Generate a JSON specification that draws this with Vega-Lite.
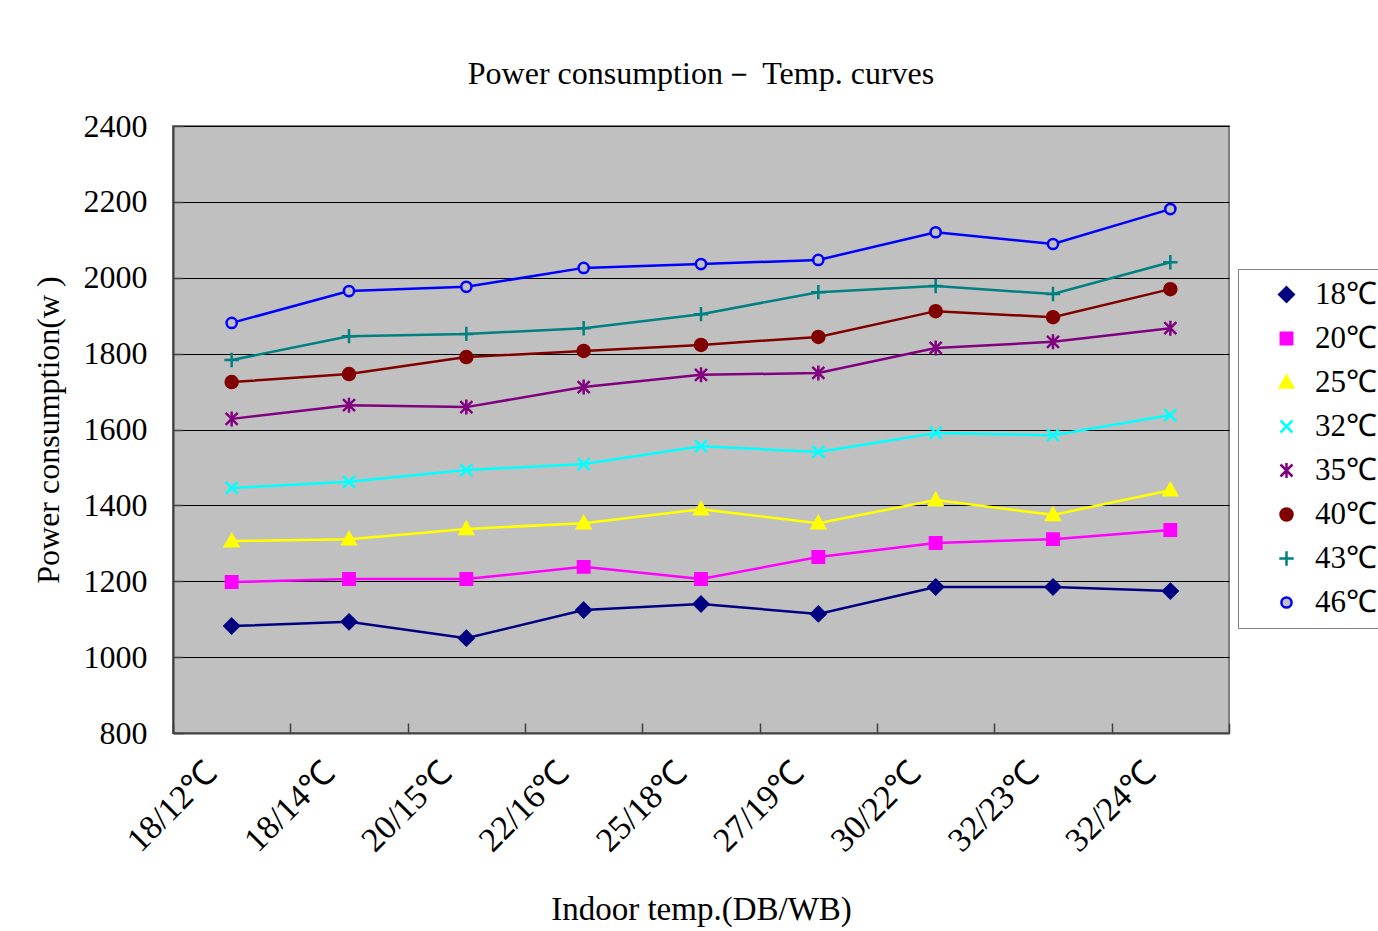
{
  "$schema": "https://vega.github.io/schema/vega-lite/v6.json",
  "width": 1056,
  "height": 607,
  "autosize": {"type": "none"},
  "padding": {"left": 173, "top": 126, "right": 149, "bottom": 198},
  "background": "white",
  "title": {
    "text": "Power consumption－ Temp. curves",
    "font": "Liberation Serif",
    "fontSize": 32,
    "fontWeight": "normal",
    "color": "black",
    "anchor": "middle",
    "offset": 19
  },
  "config": {
    "view": {"fill": "#C0C0C0", "stroke": "#808080", "strokeWidth": 2},
    "axis": {
      "labelFont": "Liberation Serif",
      "labelFontSize": 32,
      "labelColor": "black",
      "titleFont": "Liberation Serif",
      "titleFontSize": 32,
      "titleFontWeight": "normal",
      "titleColor": "black",
      "domainColor": "#404040",
      "domainWidth": 2,
      "tickColor": "#404040",
      "tickWidth": 1.5
    },
    "legend": {
      "orient": "none",
      "legendX": 1065,
      "legendY": 143,
      "fillColor": "white",
      "strokeColor": "#808080",
      "padding": 10,
      "labelFont": "Liberation Serif",
      "labelFontSize": 31,
      "labelColor": "black",
      "symbolSize": 144,
      "symbolStrokeWidth": 2.5,
      "symbolOpacity": 1,
      "symbolOffset": 23,
      "labelOffset": 13,
      "rowPadding": 12
    }
  },
  "resolve": {"legend": {"color": "independent", "stroke": "independent", "fill": "independent", "shape": "independent"}},
  "data": {
    "values": [
      {"t": "18/12℃", "s": "18℃", "w": 1082}, {"t": "18/14℃", "s": "18℃", "w": 1093}, {"t": "20/15℃", "s": "18℃", "w": 1050},
      {"t": "22/16℃", "s": "18℃", "w": 1124}, {"t": "25/18℃", "s": "18℃", "w": 1140}, {"t": "27/19℃", "s": "18℃", "w": 1114},
      {"t": "30/22℃", "s": "18℃", "w": 1185}, {"t": "32/23℃", "s": "18℃", "w": 1185}, {"t": "32/24℃", "s": "18℃", "w": 1174},
      {"t": "18/12℃", "s": "20℃", "w": 1198}, {"t": "18/14℃", "s": "20℃", "w": 1206}, {"t": "20/15℃", "s": "20℃", "w": 1206},
      {"t": "22/16℃", "s": "20℃", "w": 1238}, {"t": "25/18℃", "s": "20℃", "w": 1206}, {"t": "27/19℃", "s": "20℃", "w": 1264},
      {"t": "30/22℃", "s": "20℃", "w": 1301}, {"t": "32/23℃", "s": "20℃", "w": 1311}, {"t": "32/24℃", "s": "20℃", "w": 1335},
      {"t": "18/12℃", "s": "25℃", "w": 1306}, {"t": "18/14℃", "s": "25℃", "w": 1311}, {"t": "20/15℃", "s": "25℃", "w": 1338},
      {"t": "22/16℃", "s": "25℃", "w": 1353}, {"t": "25/18℃", "s": "25℃", "w": 1390}, {"t": "27/19℃", "s": "25℃", "w": 1353},
      {"t": "30/22℃", "s": "25℃", "w": 1414}, {"t": "32/23℃", "s": "25℃", "w": 1375}, {"t": "32/24℃", "s": "25℃", "w": 1440},
      {"t": "18/12℃", "s": "32℃", "w": 1446}, {"t": "18/14℃", "s": "32℃", "w": 1462}, {"t": "20/15℃", "s": "32℃", "w": 1493},
      {"t": "22/16℃", "s": "32℃", "w": 1509}, {"t": "25/18℃", "s": "32℃", "w": 1556}, {"t": "27/19℃", "s": "32℃", "w": 1541},
      {"t": "30/22℃", "s": "32℃", "w": 1591}, {"t": "32/23℃", "s": "32℃", "w": 1585}, {"t": "32/24℃", "s": "32℃", "w": 1638},
      {"t": "18/12℃", "s": "35℃", "w": 1628}, {"t": "18/14℃", "s": "35℃", "w": 1664}, {"t": "20/15℃", "s": "35℃", "w": 1659},
      {"t": "22/16℃", "s": "35℃", "w": 1712}, {"t": "25/18℃", "s": "35℃", "w": 1744}, {"t": "27/19℃", "s": "35℃", "w": 1749},
      {"t": "30/22℃", "s": "35℃", "w": 1815}, {"t": "32/23℃", "s": "35℃", "w": 1831}, {"t": "32/24℃", "s": "35℃", "w": 1867},
      {"t": "18/12℃", "s": "40℃", "w": 1725}, {"t": "18/14℃", "s": "40℃", "w": 1746}, {"t": "20/15℃", "s": "40℃", "w": 1791},
      {"t": "22/16℃", "s": "40℃", "w": 1807}, {"t": "25/18℃", "s": "40℃", "w": 1823}, {"t": "27/19℃", "s": "40℃", "w": 1844},
      {"t": "30/22℃", "s": "40℃", "w": 1912}, {"t": "32/23℃", "s": "40℃", "w": 1896}, {"t": "32/24℃", "s": "40℃", "w": 1970},
      {"t": "18/12℃", "s": "43℃", "w": 1783}, {"t": "18/14℃", "s": "43℃", "w": 1846}, {"t": "20/15℃", "s": "43℃", "w": 1852},
      {"t": "22/16℃", "s": "43℃", "w": 1867}, {"t": "25/18℃", "s": "43℃", "w": 1904}, {"t": "27/19℃", "s": "43℃", "w": 1962},
      {"t": "30/22℃", "s": "43℃", "w": 1978}, {"t": "32/23℃", "s": "43℃", "w": 1957}, {"t": "32/24℃", "s": "43℃", "w": 2041},
      {"t": "18/12℃", "s": "46℃", "w": 1881}, {"t": "18/14℃", "s": "46℃", "w": 1965}, {"t": "20/15℃", "s": "46℃", "w": 1976},
      {"t": "22/16℃", "s": "46℃", "w": 2026}, {"t": "25/18℃", "s": "46℃", "w": 2036}, {"t": "27/19℃", "s": "46℃", "w": 2047},
      {"t": "30/22℃", "s": "46℃", "w": 2120}, {"t": "32/23℃", "s": "46℃", "w": 2089}, {"t": "32/24℃", "s": "46℃", "w": 2181}
    ]
  },
  "encoding": {
    "x": {
      "field": "t",
      "type": "nominal",
      "sort": null,
      "scale": {"type": "band", "paddingInner": 0, "paddingOuter": 0},
      "axis": {
        "title": "Indoor  temp.(DB/WB)",
        "titleFontSize": 33,
        "titlePadding": 36,
        "labelAngle": -45,
        "labelAlign": "right",
        "labelBaseline": "middle",
        "labelFontSize": 34,
        "labelPadding": 44,
        "labelOffset": -20,
        "tickBand": "extent",
        "tickSize": -10,
        "grid": false
      }
    },
    "y": {
      "field": "w",
      "type": "quantitative",
      "scale": {"domain": [800, 2400], "nice": false, "zero": false},
      "axis": {
        "title": "Power consumption(w )",
        "titlePadding": 18,
        "format": "d",
        "values": [800, 1000, 1200, 1400, 1600, 1800, 2000, 2200, 2400],
        "tickSize": -10,
        "labelPadding": 36,
        "grid": true,
        "gridColor": "black",
        "gridWidth": 1
      }
    }
  },
  "layer": [
    {
      "mark": {"type": "line", "strokeWidth": 2.5},
      "encoding": {
        "color": {
          "field": "s",
          "type": "nominal",
          "legend": null,
          "scale": {
            "domain": ["18℃", "20℃", "25℃", "32℃", "35℃", "40℃", "43℃", "46℃"],
            "range": ["#000080", "#FF00FF", "#FFFF00", "#00FFFF", "#800080", "#800000", "#008080", "#0000FF"]
          }
        }
      }
    },
    {
      "mark": {"type": "point", "size": 144, "opacity": 1, "strokeWidth": 2.5},
      "encoding": {
        "stroke": {
          "field": "s",
          "type": "nominal",
          "title": null,
          "scale": {
            "domain": ["18℃", "20℃", "25℃", "32℃", "35℃", "40℃", "43℃", "46℃"],
            "range": ["#000080", "#FF00FF", "#FFFF00", "#00FFFF", "#800080", "#800000", "#008080", "#0000FF"]
          }
        },
        "fill": {
          "field": "s",
          "type": "nominal",
          "title": null,
          "scale": {
            "domain": ["18℃", "20℃", "25℃", "32℃", "35℃", "40℃", "43℃", "46℃"],
            "range": ["#000080", "#FF00FF", "#FFFF00", "#00FFFF", "#800080", "#800000", "#008080", "#C0C0C0"]
          }
        },
        "shape": {
          "field": "s",
          "type": "nominal",
          "title": null,
          "scale": {
            "domain": ["18℃", "20℃", "25℃", "32℃", "35℃", "40℃", "43℃", "46℃"],
            "range": [
              "M0,-1.2L1.2,0L0,1.2L-1.2,0Z",
              "M-0.95,-0.95H0.95V0.95H-0.95Z",
              "M0,-1.1L1.1,0.85L-1.1,0.85Z",
              "M-1,-1L1,1M-1,1L1,-1",
              "M-1,-1L1,1M-1,1L1,-1M0,-1.25L0,1.25",
              "M-1,0A1,1 0 1,1 1,0A1,1 0 1,1 -1,0Z",
              "M-1.2,0L1.2,0M0,-1.2L0,1.2",
              "M-0.85,0A0.85,0.85 0 1,1 0.85,0A0.85,0.85 0 1,1 -0.85,0Z"
            ]
          }
        }
      }
    }
  ]
}
